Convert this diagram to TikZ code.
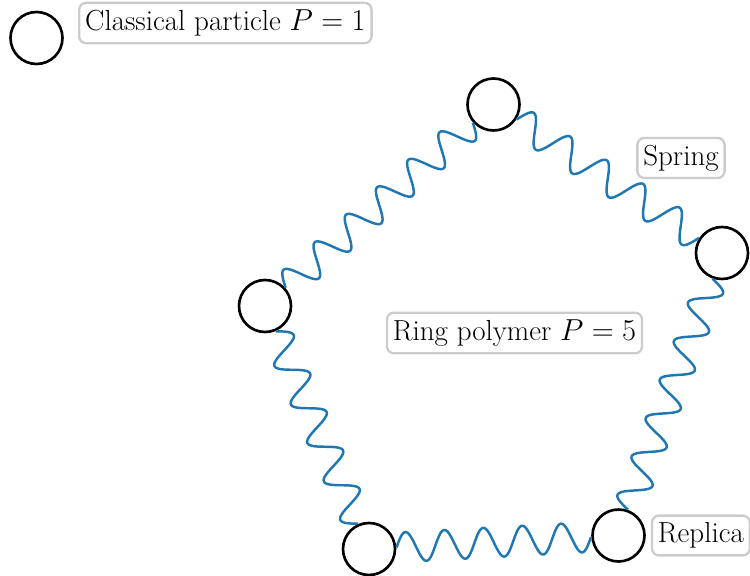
\documentclass[tikz,border=0pt]{standalone}
\usepackage{tikz}
\usetikzlibrary{positioning,calc}
\definecolor{springblue}{HTML}{1F77B4}
\definecolor{boxgray}{HTML}{CCCCCC}

\tikzset{
  bead/.style={circle, draw=black, line width=1.5pt, minimum size=1.04cm, inner sep=0pt},
  spring/.style={draw=springblue, line width=1.4pt, line join=round},
  tag/.style={draw=boxgray, line width=1.3pt, rounded corners=4pt, fill=white,
    inner xsep=0.12cm, inner ysep=0.14cm, font=\fontsize{16.5}{20}\selectfont}
}

\begin{document}
\begin{tikzpicture}
\useasboundingbox (0,0) rectangle (15,-11.52);

% classical particle
\node[bead] (p) at (0.73,-0.76) {};
\node[tag, anchor=west] (ptag) at (1.56,-0.46) {Classical particle $P=1$};

% ring polymer replicas
\foreach \name/\x/\y in {r1/9.87/-2.09, r2/14.44/-5.06, r3/12.37/-10.71, r4/7.38/-10.98, r5/5.30/-6.12}{
    \node[bead] (\name) at (\x,\y) {};
}
% springs as sine waves from rim to rim
\foreach \a/\b/\waves in {r1/r2/5, r2/r3/6, r3/r4/5, r4/r5/5, r5/r1/6}{
    \coordinate (s) at ($(\a)!0.55cm!(\b)$);
    \path let \p1=($(\b)-(\a)$), \n1={atan2(\y1,\x1)}, \n2={veclen(\x1,\y1)-31.3}
        in \pgfextra{\xdef\springang{\n1}\xdef\springlen{\n2}};
    \draw[spring, shift={(s)}, rotate=\springang]
        plot[variable=\t, domain=0:\springlen, samples=160, smooth]
        ({\t pt}, {8.5pt*sin(360*\waves*(\t/\springlen))});
}

\node[tag] (springtag) at (13.62,-3.16) {Spring};
\node[tag] (ringtag) at (10.29,-6.66) {Ring polymer $P=5$};
\node[tag, right=0.1cm of r3] (replicatag) {Replica};
\end{tikzpicture}
\end{document}
